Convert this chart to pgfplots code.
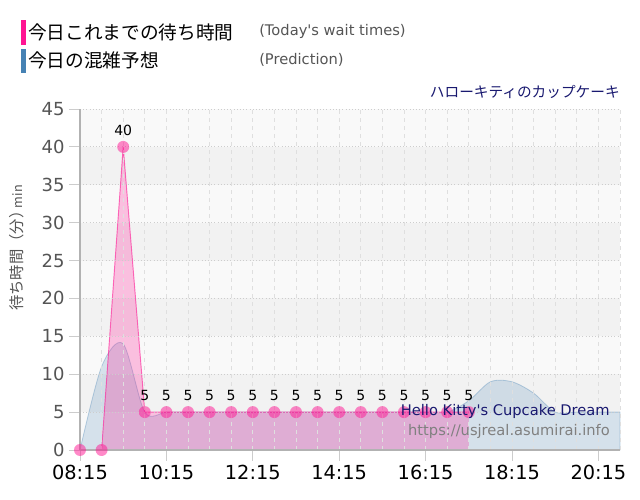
\documentclass[border=0pt]{standalone}
\usepackage{pgfplots}
\pgfplotsset{compat=1.18}
\usepackage{fontspec}
\setmainfont{DejaVu Sans}
\newfontfamily\dv{DejaVu Sans}
\newfontfamily\jp{Noto Sans CJK JP}
\definecolor{dpink}{RGB}{255,20,147}
\definecolor{sblue}{RGB}{70,130,180}
\definecolor{mnavy}{RGB}{25,25,112}
\definecolor{band}{RGB}{242,242,242}
\definecolor{bandl}{RGB}{249,249,249}
\definecolor{gridc}{RGB}{205,205,205}
\definecolor{txtgray}{RGB}{85,85,85}
\begin{document}
\begin{tikzpicture}[x=0.75pt,y=0.75pt]
\path[use as bounding box, fill=white] (0,0) rectangle (640,500);
% legend
\fill[dpink] (20.7,480) rectangle (25.7,455);
\fill[sblue] (20.7,451) rectangle (25.7,427);
\node[anchor=west, inner sep=0pt, font=\jp\fontsize{14}{16}\selectfont] at (28,468) {今日これまでの待ち時間};
\node[anchor=west, inner sep=0pt, font=\jp\fontsize{14}{16}\selectfont] at (28,440) {今日の混雑予想};
\node[anchor=west, inner sep=0pt, text=txtgray, font=\dv\fontsize{11}{13}\selectfont] at (259,469) {(Today's wait times)};
\node[anchor=west, inner sep=0pt, text=txtgray, font=\dv\fontsize{11}{13}\selectfont] at (259,440) {(Prediction)};
\node[anchor=east, inner sep=0pt, text=mnavy, font=\jp\fontsize{11}{13}\selectfont] at (620,408) {ハローキティのカップケーキ};
\node[rotate=90, inner sep=0pt, text=txtgray, font=\jp\fontsize{11.5}{13}\selectfont] at (17,252) {待ち時間（分）\kern-0.3em{\fontsize{9.5}{10}\selectfont min}};
\begin{axis}[
  at={(60pt,37.5pt)}, anchor=south west, scale only axis,
  width=405pt, height=255.75pt,
  xmin=8.25, xmax=20.75, ymin=0, ymax=45,
  clip=false, axis on top,
  axis x line*=bottom, axis y line*=left,
  axis line style={draw=gray!60, line width=0.8pt},
  xtick={8.25,10.25,12.25,14.25,16.25,18.25,20.25},
  xticklabels={08:15,10:15,12:15,14:15,16:15,18:15,20:15},
  minor xtick={8.75,9.25,9.75,10.75,11.25,11.75,12.75,13.25,13.75,14.75,15.25,15.75,16.75,17.25,17.75,18.75,19.25,19.75,20.75},
  ytick={0,5,...,45},
  /pgf/number format/assume math mode=true,
  tick align=outside, major tick length=8pt, minor tick length=0pt,
  tick style={draw=gray!40, line width=0.6pt},
  xticklabel style={font=\fontsize{14.5}{16}\selectfont, text=black},
  yticklabel style={font=\fontsize{13.5}{15}\selectfont, text=txtgray},
  grid=both,
  x grid style={draw=gray!25, dashed, line width=0.5pt},
  y grid style={draw=gridc, dotted, line width=0.7pt},
  minor grid style={draw=gray!25, dashed, line width=0.5pt},
]
\fill[bandl] (axis cs:8.25,0) rectangle (axis cs:20.75,45);
\fill[band] (axis cs:8.25,5) rectangle (axis cs:20.75,10);
\fill[band] (axis cs:8.25,15) rectangle (axis cs:20.75,20);
\fill[band] (axis cs:8.25,25) rectangle (axis cs:20.75,30);
\fill[band] (axis cs:8.25,35) rectangle (axis cs:20.75,40);
% prediction
\addplot[smooth, tension=0.5, draw=sblue, draw opacity=0.35, line width=0.6pt, fill=sblue, fill opacity=0.2] coordinates {
(8.25,0) (8.75,11) (9.25,14) (9.75,5) (10.25,5) (10.75,5) (11.25,5) (11.75,5) (12.25,5) (12.75,5) (13.25,5) (13.75,5) (14.25,5) (14.75,5) (15.25,5) (15.75,5) (16.25,5) (16.75,5) (17.25,6.5) (17.75,9) (18.25,9) (18.75,7.5) (19.25,5) (19.75,5) (20.25,5) (20.75,5)
} \closedcycle;
% today's wait times: fill
\addplot[draw=none, fill=dpink, fill opacity=0.25] coordinates {
(8.25,0) (8.75,0) (9.25,40) (9.75,5) (10.25,5) (10.75,5) (11.25,5) (11.75,5) (12.25,5) (12.75,5) (13.25,5) (13.75,5) (14.25,5) (14.75,5) (15.25,5) (15.75,5) (16.25,5) (16.75,5) (17.25,5)
} \closedcycle;
% today's wait times: line
\addplot[draw=dpink, draw opacity=0.6, line width=0.7pt, mark=none] coordinates {
(8.25,0) (8.75,0) (9.25,40) (9.75,5) (10.25,5) (10.75,5) (11.25,5) (11.75,5) (12.25,5) (12.75,5) (13.25,5) (13.75,5) (14.25,5) (14.75,5) (15.25,5) (15.75,5) (16.25,5) (16.75,5) (17.25,5)
};
\addplot[only marks, mark=*, mark size=4.5pt, color=dpink, mark options={draw opacity=0, fill=dpink, fill opacity=0.5}] coordinates {
(8.25,0) (8.75,0) (9.25,40) (9.75,5) (10.25,5) (10.75,5) (11.25,5) (11.75,5) (12.25,5) (12.75,5) (13.25,5) (13.75,5) (14.25,5) (14.75,5) (15.25,5) (15.75,5) (16.25,5) (16.75,5) (17.25,5)
};
\addplot[only marks, mark=none, nodes near coords, every node near coord/.append style={font=\fontsize{10.5}{12}\selectfont, text=black, anchor=south, yshift=5pt, /pgf/number format/assume math mode=true}] coordinates {
(9.25,40) (9.75,5) (10.25,5) (10.75,5) (11.25,5) (11.75,5) (12.25,5) (12.75,5) (13.25,5) (13.75,5) (14.25,5) (14.75,5) (15.25,5) (15.75,5) (16.25,5) (16.75,5) (17.25,5)
};
\end{axis}
\node[anchor=east, inner sep=0pt, text=mnavy, font=\dv\fontsize{11}{13}\selectfont] at (610,89) {Hello Kitty's Cupcake Dream};
\node[anchor=east, inner sep=0pt, text=gray, font=\dv\fontsize{11}{13}\selectfont] at (610,69) {https://usjreal.asumirai.info};
\end{tikzpicture}
\end{document}
